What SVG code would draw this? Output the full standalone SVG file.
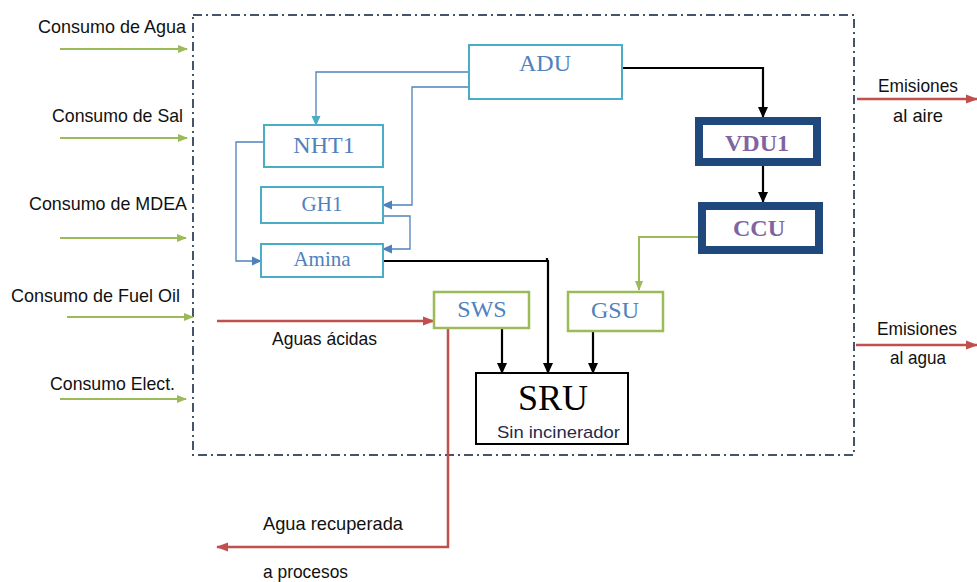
<svg xmlns="http://www.w3.org/2000/svg" width="977" height="582" viewBox="0 0 977 582">
<defs>
<style>
.lbl{font-family:"Liberation Sans",Arial,sans-serif;font-size:19px;fill:#111}
.nt{font-family:"Liberation Serif","Times New Roman",serif;fill:#4F81BD;text-anchor:middle}
.bt{font-family:"Liberation Serif","Times New Roman",serif;fill:#8064A2;font-weight:bold;text-anchor:middle;font-size:24px}
.lb{fill:#fff;stroke:#4BACC6;stroke-width:2}
.gb{fill:#fff;stroke:#9BBB59;stroke-width:2.5}
.db{fill:#fff;stroke:#1F497D;stroke-width:8}
.grn{stroke:#9BBB59;stroke-width:2;fill:none}
.red{stroke:#C0504D;stroke-width:2.5;fill:none}
.blk{stroke:#000;stroke-width:2.2;fill:none}
.blu{stroke:#4F81BD;stroke-width:1.3;fill:none}
</style>
<marker id="ag" markerWidth="10" markerHeight="10" refX="9" refY="5" orient="auto" markerUnits="userSpaceOnUse"><path d="M0,1 L10,5 L0,9 Z" fill="#9BBB59"/></marker>
<marker id="ar" markerWidth="12" markerHeight="10" refX="11" refY="5" orient="auto" markerUnits="userSpaceOnUse"><path d="M0,0.5 L12,5 L0,9.5 Z" fill="#C0504D"/></marker>
<marker id="ak" markerWidth="11" markerHeight="12" refX="10" refY="6" orient="auto" markerUnits="userSpaceOnUse"><path d="M0,1 L11,6 L0,11 Z" fill="#000"/></marker>
<marker id="ab" markerWidth="10" markerHeight="10" refX="9" refY="5" orient="auto" markerUnits="userSpaceOnUse"><path d="M0,0.5 L10,5 L0,9.5 Z" fill="#4F81BD"/></marker>
<marker id="at" markerWidth="10" markerHeight="10" refX="9" refY="5" orient="auto" markerUnits="userSpaceOnUse"><path d="M0,0.5 L10,5 L0,9.5 Z" fill="#4BACC6"/></marker>
</defs>

<g id="boundary">
<rect x="193" y="15" width="661" height="440" fill="none" stroke="#44546A" stroke-width="2" stroke-dasharray="9 4 2 4"/>
</g>

<g id="labels">
<text class="lbl" x="186" y="33" text-anchor="end" textLength="148" lengthAdjust="spacingAndGlyphs">Consumo de Agua</text>
<text class="lbl" x="183" y="122" text-anchor="end" textLength="131" lengthAdjust="spacingAndGlyphs">Consumo de Sal</text>
<text class="lbl" x="187" y="210" text-anchor="end" textLength="158" lengthAdjust="spacingAndGlyphs">Consumo de MDEA</text>
<text class="lbl" x="180" y="302" text-anchor="end" textLength="169" lengthAdjust="spacingAndGlyphs">Consumo de Fuel Oil</text>
<text class="lbl" x="175" y="390" text-anchor="end" textLength="125" lengthAdjust="spacingAndGlyphs">Consumo Elect.</text>
<text class="lbl" x="878" y="92" textLength="80" lengthAdjust="spacingAndGlyphs">Emisiones</text>
<text class="lbl" x="893" y="122" textLength="50" lengthAdjust="spacingAndGlyphs">al aire</text>
<text class="lbl" x="877" y="335" textLength="80" lengthAdjust="spacingAndGlyphs">Emisiones</text>
<text class="lbl" x="890" y="364" textLength="56" lengthAdjust="spacingAndGlyphs">al agua</text>
<text class="lbl" x="272" y="345" textLength="105" lengthAdjust="spacingAndGlyphs">Aguas ácidas</text>
<text class="lbl" x="263" y="530" textLength="140" lengthAdjust="spacingAndGlyphs">Agua recuperada</text>
<text class="lbl" x="263" y="578" textLength="85" lengthAdjust="spacingAndGlyphs">a procesos</text>
</g>

<g id="connectors">
<line class="grn" x1="60" y1="49" x2="187" y2="49" marker-end="url(#ag)"/>
<line class="grn" x1="60" y1="138" x2="187" y2="138" marker-end="url(#ag)"/>
<line class="grn" x1="60" y1="238" x2="186" y2="238" marker-end="url(#ag)"/>
<line class="grn" x1="67" y1="317" x2="193" y2="317" marker-end="url(#ag)"/>
<line class="grn" x1="60" y1="399" x2="186" y2="399" marker-end="url(#ag)"/>
<line class="red" x1="857" y1="99" x2="977" y2="99" marker-end="url(#ar)"/>
<line class="red" x1="856" y1="345" x2="977" y2="345" marker-end="url(#ar)"/>
<line class="red" x1="217" y1="321" x2="434" y2="321" marker-end="url(#ar)"/>
<polyline class="red" points="448,328 448,547 217,547" marker-end="url(#ar)"/>
<polyline class="blk" points="622,68 763,68 763,117" marker-end="url(#ak)"/>
<line class="blk" x1="763" y1="166" x2="763" y2="202" marker-end="url(#ak)"/>
<polyline class="grn" points="698,237 639,237 639,290" stroke-width="2.5" marker-end="url(#ag)"/>
<line class="blk" x1="502" y1="328" x2="502" y2="373" stroke-width="1.8" marker-end="url(#ak)"/>
<polyline class="blk" points="383,261 548,261 548,373" stroke-width="1.8" marker-end="url(#ak)"/>
<line class="blk" x1="547" y1="258" x2="547" y2="262" stroke-width="1.5"/>
<line class="blk" x1="593" y1="331" x2="593" y2="373" stroke-width="1.8" marker-end="url(#ak)"/>
<polyline class="blu" points="469,72 316,72 316,125" marker-end="url(#at)"/>
<polyline class="blu" points="473,87 412,87 412,205 383,205" marker-end="url(#ab)"/>
<polyline class="blu" points="383,216 410,216 410,249 383,249" marker-end="url(#ab)"/>
<polyline class="blu" points="264,142 236,142 236,261 261,261" marker-end="url(#ab)"/>
</g>

<g id="ADU"><rect class="lb" x="469" y="45" width="153" height="54"/><text class="nt" x="545" y="71" font-size="24">ADU</text></g>
<g id="NHT1"><rect class="lb" x="264" y="125" width="119" height="42"/><text class="nt" x="324" y="153" font-size="24">NHT1</text></g>
<g id="GH1"><rect class="lb" x="261" y="187" width="122" height="36"/><text class="nt" x="322" y="211" font-size="21">GH1</text></g>
<g id="Amina"><rect class="lb" x="261" y="244" width="122" height="33"/><text class="nt" x="322" y="266" font-size="21">Amina</text></g>
<g id="VDU1"><rect class="db" x="699" y="121" width="118" height="41"/><text class="bt" x="757" y="151">VDU1</text></g>
<g id="CCU"><rect class="db" x="702" y="206" width="117" height="44"/><text class="bt" x="759" y="236">CCU</text></g>
<g id="SWS"><rect class="gb" x="434" y="292" width="95" height="36"/><text class="nt" x="482" y="317" font-size="24">SWS</text></g>
<g id="GSU"><rect class="gb" x="568" y="292" width="95" height="39"/><text class="nt" x="615" y="318" font-size="24">GSU</text></g>
<g id="SRU"><rect x="476" y="373" width="152" height="71" fill="#fff" stroke="#000" stroke-width="2"/><text x="553" y="410" font-family="Liberation Serif,'Times New Roman',serif" font-size="36" text-anchor="middle" fill="#000">SRU</text><text x="497" y="438" font-family="Liberation Sans,Arial,sans-serif" font-size="17" fill="#1F2A4F" textLength="123" lengthAdjust="spacingAndGlyphs">Sin incinerador</text></g>
</svg>
